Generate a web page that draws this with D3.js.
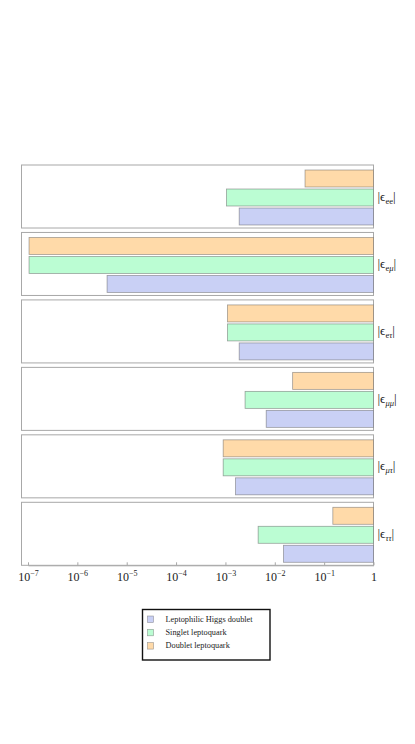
<!DOCTYPE html>
<html>
<head>
<meta charset="utf-8">
<script src="https://cdn.jsdelivr.net/npm/d3@7"></script>
<style>
  body { margin: 0; background: #fff; }
  svg text { font-family: "Liberation Serif", "DejaVu Serif", serif; }
</style>
</head>
<body>
<svg width="415" height="744"></svg>
<script>
// couplings, top to bottom
const couplings = ['ee', 'eμ', 'eτ', 'μμ', 'μτ', 'ττ'];
// subscript pieces: [text, italic]
const subs = [
  [['ee', false]],
  [['e', false], ['μ', true]],
  [['e', false], ['τ', true]],
  [['μμ', true]],
  [['μτ', true]],
  [['ττ', true]]
];
const models = ['Doublet leptoquark', 'Singlet leptoquark', 'Leptophilic Higgs doublet'];
const legendOrder = ['Leptophilic Higgs doublet', 'Singlet leptoquark', 'Doublet leptoquark'];
// upper bounds
const doublet = [0.041, 1.05e-7, 1.1e-3, 0.023, 9e-4, 0.15];
const singlet = [1.05e-3, 1.05e-7, 1.1e-3, 2.5e-3, 9e-4, 4.6e-3];
const higgs = [1.9e-3, 4e-6, 1.9e-3, 6.7e-3, 1.6e-3, 0.015];
const tickExp = [-7, -6, -5, -4, -3, -2, -1, 0];

const values = { 'Doublet leptoquark': doublet, 'Singlet leptoquark': singlet, 'Leptophilic Higgs doublet': higgs };
const color = d3.scaleOrdinal()
  .domain(['Leptophilic Higgs doublet', 'Singlet leptoquark', 'Doublet leptoquark'])
  .range(['#c9d0f5', '#bbfdd3', '#ffdaa9']);

let svg = d3.select('svg');
const left = 21.5, right = 373.5;

let x = d3.scaleLog().domain([1e-7, 1]).range([28, 373.5]);
let y = d3.scaleBand().domain(couplings).range([165, 565.3]).paddingInner(0.066);
let yi = d3.scaleBand().domain(models).range([5, 60]).paddingInner(0.105);

let panel = svg.selectAll('.panel')
  .data(couplings)
  .enter().append('g')
  .attr('class', 'panel')
  .attr('transform', d => 'translate(0,' + y(d) + ')');

panel.append('rect')
  .attr('x', left)
  .attr('y', 0)
  .attr('width', right - left)
  .attr('height', y.bandwidth())
  .attr('fill', 'none')
  .attr('stroke', '#a8a8a8')
  .attr('stroke-width', 1);

panel.each(function(c, i) {
  let g = d3.select(this);
  models.forEach(function(m) {
    let v = values[m][i];
    g.append('rect')
      .attr('x', x(v))
      .attr('y', yi(m))
      .attr('width', x(1) - x(v))
      .attr('height', yi.bandwidth())
      .attr('fill', color(m))
      .attr('stroke', 'rgba(90,90,90,0.55)')
      .attr('stroke-width', 0.8);
  });

  let t = g.append('text')
    .attr('x', 377.5)
    .attr('y', y.bandwidth() / 2 + 4)
    .attr('font-size', 13)
    .attr('fill', '#222');
  t.append('tspan').text('|ϵ');
  subs[i].forEach(function(p, k) {
    t.append('tspan')
      .attr('font-size', 8.5)
      .attr('font-style', p[1] ? 'italic' : 'normal')
      .attr('dy', k === 0 ? 3 : 0)
      .text(p[0]);
  });
  t.append('tspan').attr('dy', -3).text('|');
});

// x axis
let axis = svg.append('g')
  .attr('transform', 'translate(0,565.3)')
  .call(d3.axisBottom(x)
    .tickValues(tickExp.map(e => Math.pow(10, e)))
    .tickSizeInner(-3)
    .tickSizeOuter(0)
    .tickFormat(''));
axis.select('.domain').attr('stroke', '#a8a8a8');
axis.selectAll('.tick line').attr('stroke', '#a8a8a8');
axis.selectAll('.tick').each(function(d, i) {
  let t = d3.select(this).append('text')
    .attr('y', 16)
    .attr('fill', '#222')
    .attr('font-size', 12)
    .attr('text-anchor', 'middle');
  if (tickExp[i] === 0) {
    t.text('1');
  } else {
    t.append('tspan').text('10');
    t.append('tspan').attr('font-size', 8).attr('dy', -5).text('−' + (-tickExp[i]));
  }
});

// legend
let lg = svg.append('g').attr('transform', 'translate(142.5,609.5)');
lg.append('rect')
  .attr('width', 127.5)
  .attr('height', 50.5)
  .attr('fill', '#fff')
  .attr('stroke', '#111')
  .attr('stroke-width', 1.4);
let item = lg.selectAll('.item')
  .data(legendOrder)
  .enter().append('g')
  .attr('class', 'item')
  .attr('transform', (d, i) => 'translate(5,' + (6.5 + i * 13.3) + ')');
item.append('rect')
  .attr('width', 6)
  .attr('height', 6.5)
  .attr('fill', d => color(d))
  .attr('stroke', 'rgba(90,90,90,0.6)')
  .attr('stroke-width', 0.6);
item.append('text')
  .attr('x', 18)
  .attr('y', 5.8)
  .attr('font-size', 8.3)
  .attr('fill', '#222')
  .text(d => d);
</script>
</body>
</html>
